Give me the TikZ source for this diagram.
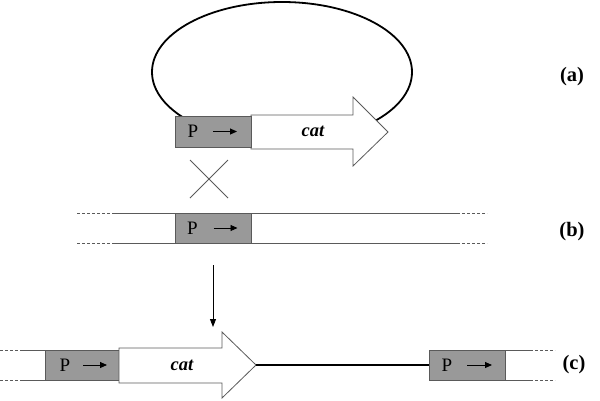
\documentclass[tikz,border=0pt]{standalone}
\usepackage{fontspec}
\setmainfont{Liberation Serif}
\usetikzlibrary{arrows.meta}
\definecolor{pgray}{RGB}{153,153,153}
\definecolor{edge}{RGB}{90,90,90}
\begin{document}
\begin{tikzpicture}[x=1pt,y=-1pt,
  pbox/.style={draw=edge, fill=pgray, line width=0.8pt, minimum width=76pt, minimum height=31pt, inner sep=0pt},
  ptxt/.style={font=\fontsize{19}{19}\selectfont, inner sep=0pt},
  parrow/.style={line width=0.9pt, -{Triangle[length=7pt,width=6pt]}},
  catarrow/.style={draw=edge, fill=white, line width=0.8pt},
  cattxt/.style={font=\fontsize{18.5}{18.5}\selectfont\bfseries\itshape, inner sep=0pt},
  rail/.style={draw=edge, line width=0.8pt},
  dashrail/.style={draw=edge, line width=0.8pt, dash pattern=on 3pt off 2pt},
  lab/.style={font=\fontsize{20.5}{20.5}\selectfont\bfseries, inner sep=0pt}]
\useasboundingbox (0,0) rectangle (600,400);

% ---------- (a) plasmid ----------
\draw[line width=1.8pt] (282,72) ellipse [x radius=130, y radius=70];
\draw[catarrow] (251,115) -- (353,115) -- (353,97) -- (388,132) -- (353,166) -- (353,149) -- (251,149) -- cycle;
\node[cattxt] (cata) at (313,131) {cat};
\node[pbox] (pa) at (213,131.5) {};
\node[ptxt] (pta) at ([xshift=-20pt]pa.center) {P};
\draw[parrow] ([xshift=0pt]pa.center) -- ([xshift=24pt]pa.center);
\node[lab] (la) at (572,77) {(a)};

% crossover
\coordinate (x1) at (190,160); \coordinate (x2) at (228,198);
\coordinate (x3) at (228,160); \coordinate (x4) at (190,198);
\draw[draw=edge, line width=0.8pt] (x1) -- (x2) (x3) -- (x4);

% ---------- (b) chromosome ----------
\draw[dashrail] (77,213) -- (115,213);
\draw[dashrail] (77,243) -- (115,243);
\draw[rail] (115,213) -- (457,213);
\draw[rail] (115,243) -- (457,243);
\draw[dashrail] (457,213) -- (487,213);
\draw[dashrail] (457,243) -- (487,243);
\node[pbox, minimum height=30pt] (pb) at (213.5,228) {};
\node[ptxt] (ptb) at ([xshift=-21pt]pb.center) {P};
\draw[parrow] ([xshift=0pt]pb.center) -- ([xshift=24pt]pb.center);
\node[lab] (lb) at (572,232) {(b)};

% down arrow
\coordinate (d1) at (213,265); \coordinate (d2) at (213,327);
\draw[line width=0.9pt, -{Triangle[length=8pt,width=6pt]}] (d1) -- (d2);

% ---------- (c) integrant ----------
\draw[dashrail] (0,350) -- (22,350);
\draw[dashrail] (0,380) -- (22,380);
\draw[rail] (22,350) -- (45,350);
\draw[rail] (22,380) -- (45,380);
\node[pbox, minimum width=74pt, minimum height=30pt] (pc1) at (82,365) {};
\node[ptxt] (ptc1) at ([xshift=-17pt]pc1.center) {P};
\draw[parrow] ([xshift=1pt]pc1.center) -- ([xshift=25pt]pc1.center);
\draw[catarrow] (119,348) -- (222,348) -- (222,332) -- (256,365) -- (222,398) -- (222,383) -- (119,383) -- cycle;
\node[cattxt] (catc) at (182,365) {cat};
\coordinate (tipc) at (256,365);
\node[pbox, minimum width=76pt, minimum height=30pt] (pc2) at (467,365) {};
\draw[line width=1.7pt] (tipc) -- (pc2.west);
\node[ptxt] (ptc2) at ([xshift=-20pt]pc2.center) {P};
\draw[parrow] ([xshift=0pt]pc2.center) -- ([xshift=25pt]pc2.center);
\draw[rail] (505,350) -- (530,350);
\draw[rail] (505,380) -- (530,380);
\draw[dashrail] (530,350) -- (555,350);
\draw[dashrail] (530,380) -- (555,380);
\node[lab] (lc) at (574,365) {(c)};
\end{tikzpicture}
\end{document}
